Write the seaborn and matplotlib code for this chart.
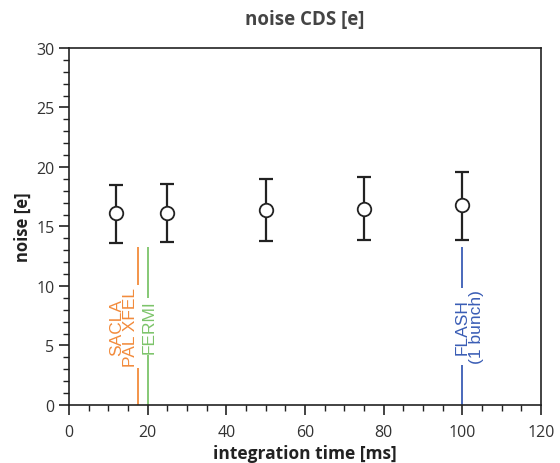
import matplotlib
matplotlib.use("Agg")
import matplotlib.pyplot as plt
from matplotlib.ticker import MultipleLocator
import seaborn as sns
import pandas as pd

# data
integration_time = [12, 25, 50, 75, 100]
noise = [16.1, 16.1, 16.4, 16.5, 16.8]
err_low = [2.5, 2.4, 2.6, 2.6, 2.9]
err_high = [2.4, 2.5, 2.6, 2.7, 2.8]

facility_x = [17.5, 20, 100]
facility_labels = ["SACLA\nPAL XFEL", "FERMI", "FLASH\n(1 bunch)"]
facility_colors = ["#F28B3C", "#7CC46A", "#3A5DB5"]
facility_top = 13.3
facility_text_y = 6.6

sns.set_style("ticks")
plt.rcParams['font.family'] = ['Open Sans', 'DejaVu Sans']

fig = plt.figure(figsize=(5.6, 4.64), dpi=100)
ax = fig.add_axes([0.1232, 0.125, 0.8429, 0.7694])

df = pd.DataFrame({"t": integration_time, "noise": noise})

ax.set_xlim(0, 120)
ax.set_ylim(0, 30)

# facility labels, then lines broken around the text
texts = []
for x, lab, c, off in zip(facility_x, facility_labels, facility_colors, [-3.6, 0.4, 1.8]):
    t = ax.text(x + off, facility_text_y, lab, rotation=90, ha="center", va="center",
                multialignment="center", color=c, fontsize=12.5,
                family=["Liberation Sans", "DejaVu Sans"], linespacing=0.95, zorder=3)
    texts.append(t)

fig.canvas.draw()
renderer = fig.canvas.get_renderer()
inv = ax.transData.inverted()
for x, c, t in zip(facility_x, facility_colors, texts):
    bb = t.get_window_extent(renderer)
    (_, y0), (_, y1) = inv.transform([(bb.x0, bb.y0), (bb.x1, bb.y1)])
    gap = 0.15
    ax.vlines(x, 0, y0 - gap, color=c, lw=1.3, zorder=2)
    ax.vlines(x, y1 + gap, facility_top, color=c, lw=1.3, zorder=2)

ax.errorbar(integration_time, noise, yerr=[err_low, err_high], fmt="none",
            ecolor="#222222", elinewidth=1.6, capsize=5, capthick=1.6, zorder=4)
sns.scatterplot(data=df, x="t", y="noise", ax=ax, s=95, color="white",
                edgecolor="#222222", linewidth=1.3, zorder=5, legend=False)

ax.set_xlim(0, 120)
ax.set_ylim(0, 30)
ax.xaxis.set_major_locator(MultipleLocator(20))
ax.xaxis.set_minor_locator(MultipleLocator(5))
ax.yaxis.set_major_locator(MultipleLocator(5))
ax.yaxis.set_minor_locator(MultipleLocator(1))
ax.tick_params(which="major", length=7.5, width=1.2, color="#222222",
               labelsize=11.5, labelcolor="#333333")
ax.tick_params(axis="x", which="major", pad=6)
ax.tick_params(axis="y", which="major", pad=3)
ax.tick_params(which="minor", length=4, width=1.0, color="#222222")
for s in ax.spines.values():
    s.set_color("#222222")
    s.set_linewidth(1.2)

ax.set_xlabel("integration time [ms]", fontsize=12.5, fontweight="bold",
              color="#222222", labelpad=3)
ax.set_ylabel("noise [e]", fontsize=12, fontweight="bold", color="#222222",
              labelpad=3)
ax.set_title("noise CDS [e]", fontsize=13.5, fontweight="bold", color="#444444", pad=17)

fig.savefig("out.png", dpi=100)
